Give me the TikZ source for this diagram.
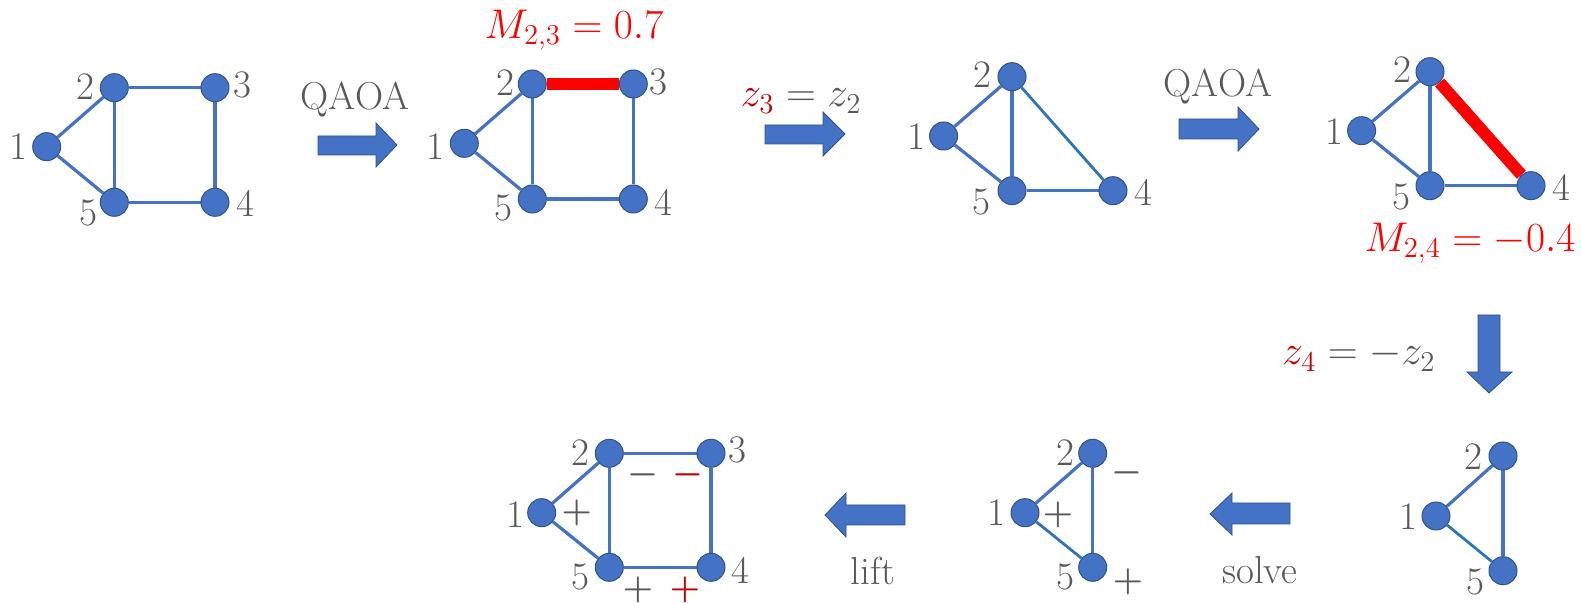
\documentclass[tikz,border=0pt]{standalone}
\usetikzlibrary{backgrounds}
\definecolor{nodeblue}{HTML}{4472C4}
\definecolor{nodeedge}{HTML}{2F528F}
\definecolor{edgeblue}{HTML}{4472C4}
\definecolor{edgedark}{HTML}{2E75B6}
\definecolor{txtgray}{HTML}{595959}
\definecolor{darkred}{HTML}{C00000}
\begin{document}
\begin{tikzpicture}[x=0.5pt,y=-0.5pt,
  vtx/.style={circle,fill=nodeblue,draw=nodeedge,line width=0.5pt,minimum size=14pt,inner sep=0pt},
  lbl/.style={text=txtgray,font=\fontsize{19.5}{19.5}\selectfont,inner sep=0pt},
  sgn/.style={text=txtgray,font=\fontsize{19}{19}\selectfont\boldmath,inner sep=0pt},
  rsgn/.style={text=darkred,font=\fontsize{19}{19}\selectfont\boldmath,inner sep=0pt},
  mtxt/.style={text=red,font=\fontsize{20.5}{20.5}\selectfont,inner sep=0pt},
  ztxt/.style={text=txtgray,font=\fontsize{20.5}{20.5}\selectfont,inner sep=0pt},
  edg/.style={draw=edgeblue,line width=1.6pt},
  edgd/.style={draw=edgedark,line width=1.4pt},
  hot/.style={draw=red,line width=6pt},
  barrow/.style={fill=nodeblue,draw=nodeedge,line width=0.4pt}
]
\useasboundingbox (0,0) rectangle (1581,603);

% ---------- Graph 1 ----------
\node[vtx] (a1) at (46.7,146.7) {};
\node[vtx] (a2) at (114.3,87.7) {};
\node[vtx] (a3) at (215,87.7) {};
\node[vtx] (a4) at (215,202.3) {};
\node[vtx] (a5) at (114.3,202.3) {};
\node[lbl] (la1) at (18,147) {1};
\node[lbl] (la2) at (85,87) {2};
\node[lbl] (la3) at (242,85) {3};
\node[lbl] (la4) at (245,203) {4};
\node[lbl] (la5) at (88,213) {5};
\begin{scope}[on background layer]
\draw[edg] (a1) -- (a2);
\draw[edg] (a1) -- (a5);
\draw[edg] (a2) -- (a5);
\draw[edg] (a2) -- (a3);
\draw[edg] (a3) -- (a4);
\draw[edg] (a5) -- (a4);
\end{scope}

% arrow 1
\node[lbl] (q1) at (355,100) {QAOA};
\fill[barrow] (318,136) -- (376,136) -- (376,123) -- (397,145) -- (376,167) -- (376,155) -- (318,155) -- cycle;

% ---------- Graph 2 ----------
\node[vtx] (b1) at (464.3,143.3) {};
\node[vtx] (b2) at (532.3,84) {};
\node[vtx] (b3) at (633.3,84) {};
\node[vtx] (b4) at (633.3,199) {};
\node[vtx] (b5) at (532.3,199) {};
\node[lbl] (lb1) at (435,147) {1};
\node[lbl] (lb2) at (505,83) {2};
\node[lbl] (lb3) at (658,82) {3};
\node[lbl] (lb4) at (663,202) {4};
\node[lbl] (lb5) at (503,208) {5};
\node[mtxt] (m23) at (574,30) {$M_{2,3}=0.7$};
\begin{scope}[on background layer]
\draw[edg] (b1) -- (b2);
\draw[edg] (b1) -- (b5);
\draw[edg] (b2) -- (b5);
\draw[hot] (b2) -- (b3);
\draw[edg] (b3) -- (b4);
\draw[edg] (b5) -- (b4);
\end{scope}

% arrow 2
\node[ztxt] (z3) at (801,101) {$\color{darkred}z_3\color{txtgray}=z_2$};
\fill[barrow] (765,125) -- (823,125) -- (823,112) -- (845,134) -- (823,156) -- (823,144) -- (765,144) -- cycle;

% ---------- Graph 3 ----------
\node[vtx] (c1) at (943.6,136) {};
\node[vtx] (c2) at (1012,76.7) {};
\node[vtx] (c4) at (1113,190.7) {};
\node[vtx] (c5) at (1012,190.7) {};
\node[lbl] (lc1) at (916,137) {1};
\node[lbl] (lc2) at (982.5,75) {2};
\node[lbl] (lc4) at (1143,192) {4};
\node[lbl] (lc5) at (981.6,202) {5};
\begin{scope}[on background layer]
\draw[edg] (c1) -- (c2);
\draw[edg] (c1) -- (c5);
\draw[edg] (c2) -- (c5);
\draw[edgd] (c2) -- (c4);
\draw[edg] (c5) -- (c4);
\end{scope}

% arrow 3
\node[lbl] (q2) at (1218,87) {QAOA};
\fill[barrow] (1179,119) -- (1238,119) -- (1238,107) -- (1259,129) -- (1238,151) -- (1238,139) -- (1179,139) -- cycle;

% ---------- Graph 4 ----------
\node[vtx] (d1) at (1361.6,130.7) {};
\node[vtx] (d2) at (1430,71.7) {};
\node[vtx] (d4) at (1531,185.7) {};
\node[vtx] (d5) at (1430,185.7) {};
\node[lbl] (ld1) at (1334,132) {1};
\node[lbl] (ld2) at (1402,70) {2};
\node[lbl] (ld4) at (1561,187) {4};
\node[lbl] (ld5) at (1401.5,197) {5};
\node[mtxt] (m24) at (1470,243) {$M_{2,4}=-0.4$};
\begin{scope}[on background layer]
\draw[edg] (d1) -- (d2);
\draw[edg] (d1) -- (d5);
\draw[edg] (d2) -- (d5);
\draw[hot] (d2) -- (d4);
\draw[edg] (d5) -- (d4);
\end{scope}

% down arrow
\node[ztxt] (z4) at (1359,356) {$\color{darkred}z_4\color{txtgray}=-z_2$};
\fill[barrow] (1478,315) -- (1500,315) -- (1500,372) -- (1512,372) -- (1489,393) -- (1467,372) -- (1478,372) -- cycle;

% ---------- Graph 5 (bottom right) ----------
\node[vtx] (e1) at (1436,516) {};
\node[vtx] (e2) at (1503,456) {};
\node[vtx] (e5) at (1503,570.7) {};
\node[lbl] (le1) at (1408,517) {1};
\node[lbl] (le2) at (1473,457) {2};
\node[lbl] (le5) at (1475,582) {5};
\begin{scope}[on background layer]
\draw[edg] (e1) -- (e2);
\draw[edgd] (e1) -- (e5);
\draw[edg] (e2) -- (e5);
\end{scope}

% solve arrow
\fill[barrow] (1290,503) -- (1232,503) -- (1232,493) -- (1210,514) -- (1232,535) -- (1232,524) -- (1290,524) -- cycle;
\node[lbl] (solve) at (1260,570) {solve};

% ---------- Graph 6 (bottom middle) ----------
\node[vtx] (f1) at (1025,512.7) {};
\node[vtx] (f2) at (1092.7,453.3) {};
\node[vtx] (f5) at (1092.7,567.3) {};
\node[lbl] (lf1) at (996.7,513) {1};
\node[lbl] (lf2) at (1065,453) {2};
\node[lbl] (lf5) at (1065,577) {5};
\node[sgn] (sf2) at (1126.7,472.7) {$-$};
\node[sgn] (sf1) at (1058,515) {$+$};
\node[sgn] (sf5) at (1128,581.7) {$+$};
\begin{scope}[on background layer]
\draw[edg] (f1) -- (f2);
\draw[edgd] (f1) -- (f5);
\draw[edg] (f2) -- (f5);
\end{scope}

% lift arrow
\fill[barrow] (905,505) -- (846,505) -- (846,493) -- (825,515) -- (846,537) -- (846,525) -- (905,525) -- cycle;
\node[lbl] (lift) at (873,571) {lift};

% ---------- Graph 7 (bottom left) ----------
\node[vtx] (g1) at (541.7,512.7) {};
\node[vtx] (g2) at (609.3,453.3) {};
\node[vtx] (g3) at (711,453.3) {};
\node[vtx] (g4) at (711,567.3) {};
\node[vtx] (g5) at (609.3,567.3) {};
\node[lbl] (lg1) at (515,515) {1};
\node[lbl] (lg2) at (580,453) {2};
\node[lbl] (lg3) at (737,450) {3};
\node[lbl] (lg4) at (740,570) {4};
\node[lbl] (lg5) at (580,577) {5};
\node[sgn] (sg1) at (576.7,513) {$+$};
\node[sgn] (sg2) at (643,475) {$-$};
\node[rsgn] (sg3) at (688,475) {$-$};
\node[sgn] (sg5) at (638,590) {$+$};
\node[rsgn] (sg4) at (685,590) {$+$};
\begin{scope}[on background layer]
\draw[edg] (g1) -- (g2);
\draw[edg] (g1) -- (g5);
\draw[edg] (g2) -- (g5);
\draw[edg] (g2) -- (g3);
\draw[edg] (g3) -- (g4);
\draw[edg] (g5) -- (g4);
\end{scope}
\end{tikzpicture}
\end{document}
